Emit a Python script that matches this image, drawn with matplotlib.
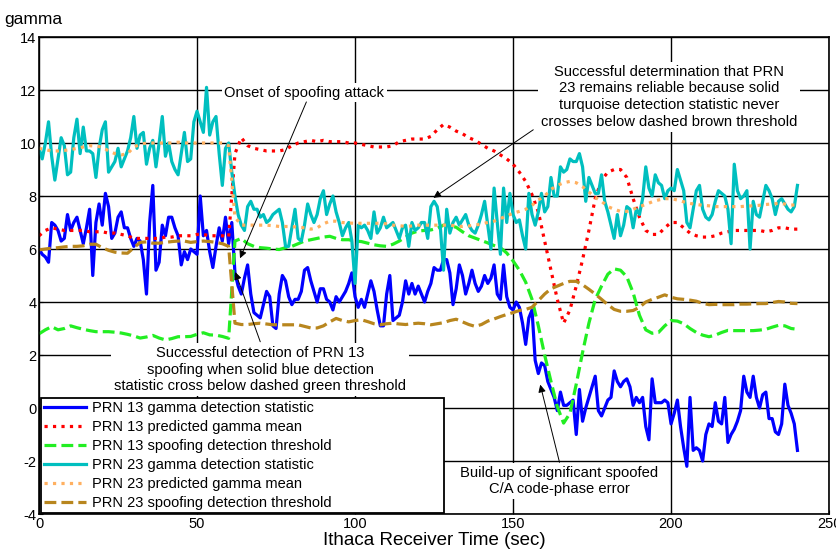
import numpy as np
import matplotlib
matplotlib.use("Agg")
import matplotlib.pyplot as plt

plt.rcParams['font.family'] = ['Liberation Sans', 'DejaVu Sans']
plt.rcParams['axes.unicode_minus'] = False

# detection statistics, one sample per second
t_stat = np.arange(0, 241, 1)
gamma_13 = [
    6.0, 5.8, 5.7, 5.5, 7.0, 6.9, 6.7, 6.3, 6.4, 7.3, 6.7, 7.0, 7.2, 6.7, 6.2, 6.8, 7.5, 5.0, 7.0, 7.7,
    6.9, 8.1, 7.6, 6.4, 6.6, 7.2, 7.4, 6.8, 6.8, 6.4, 6.1, 6.4, 6.3, 5.6, 4.3, 7.0, 8.4, 5.2, 5.5, 6.9,
    6.5, 7.2, 7.2, 6.8, 6.5, 5.4, 5.9, 5.6, 6.0, 5.9, 5.8, 8.0, 6.5, 6.7, 5.9, 5.3, 6.1, 6.8, 6.3, 7.2,
    6.2, 7.0, 5.1, 4.6, 4.3, 4.9, 5.4, 4.3, 3.6, 3.5, 3.4, 3.9, 4.4, 4.2, 3.1, 3.0, 4.3, 5.0, 4.8, 4.2,
    3.9, 4.1, 4.1, 4.4, 5.2, 5.3, 4.8, 4.4, 4.0, 4.5, 4.5, 4.1, 4.0, 3.7, 4.2, 4.0, 4.2, 4.4, 4.7, 5.1,
    4.2, 3.8, 4.1, 3.8, 4.3, 4.8, 4.4, 3.7, 3.1, 3.1, 4.3, 5.0, 3.3, 3.4, 3.5, 4.0, 4.8, 4.3, 4.7, 4.3,
    4.6, 4.3, 4.0, 4.4, 4.7, 5.3, 5.2, 5.2, 5.6, 5.6, 5.1, 3.9, 4.5, 5.4, 5.0, 4.3, 4.7, 5.2, 4.7, 4.4,
    4.6, 5.0, 4.7, 4.9, 5.4, 4.3, 4.1, 5.4, 4.2, 3.8, 3.7, 4.0, 3.8, 3.2, 2.4, 3.4, 3.7, 1.8, 1.3, 1.7,
    1.6, 1.0, 0.7, 0.4, -0.1, 0.6, 0.1, 0.1, 0.2, 0.3, -1.0, 0.7, -0.5, 0.0, 0.4, 0.8, 1.2, -0.1, -0.3, 0.0,
    0.3, 0.4, 1.4, 1.0, 0.8, 1.0, 1.1, 0.8, 0.1, 0.4, 0.2, 0.4, -0.7, -1.2, 1.1, 0.2, 0.2, 0.2, 0.3, 0.2,
    -0.6, -0.2, 0.3, -0.7, -1.5, -2.2, 0.4, -1.6, -1.5, -1.6, -2.0, -1.0, -0.6, -0.7, 0.2, -0.5, -0.6, 0.4, -1.3, -1.0,
    -0.8, -0.5, -0.1, 1.2, 0.6, 0.4, 1.2, 0.4, 0.0, 0.5, 0.6, -0.4, -0.4, -0.9, -1.0, -0.6, 0.9, 0.1, -0.2, -0.6,
    -1.6]
gamma_23 = [
    9.8, 9.4, 10.0, 10.8, 9.5, 8.6, 9.4, 10.2, 9.9, 8.8, 8.9, 10.2, 10.9, 9.6, 10.6, 9.7, 9.7, 9.6, 8.7, 9.8,
    10.5, 10.8, 8.9, 9.1, 9.3, 9.8, 9.1, 9.4, 9.7, 10.2, 11.0, 9.8, 10.3, 10.4, 9.2, 9.8, 10.1, 9.1, 10.0, 11.0,
    9.5, 10.0, 9.3, 9.0, 8.8, 9.6, 10.4, 9.3, 9.4, 10.8, 11.2, 10.8, 10.4, 12.1, 10.3, 10.8, 11.0, 9.6, 8.4, 9.8,
    10.0, 8.9, 8.0, 7.3, 6.9, 6.7, 7.6, 7.8, 7.5, 7.5, 7.2, 7.3, 7.0, 7.1, 7.3, 7.4, 7.5, 7.0, 6.1, 6.1,
    6.8, 7.5, 6.4, 6.3, 6.9, 7.7, 7.3, 7.0, 7.3, 7.9, 8.2, 7.3, 7.7, 8.0, 7.4, 7.0, 6.5, 6.8, 7.0, 6.3,
    4.7, 6.9, 6.8, 6.9, 6.7, 6.4, 7.4, 6.6, 6.8, 7.2, 6.8, 6.9, 7.0, 6.7, 6.4, 6.8, 6.9, 6.1, 7.0, 6.7,
    6.8, 7.0, 7.0, 6.4, 7.6, 7.8, 7.6, 6.8, 5.2, 7.5, 6.6, 7.0, 7.2, 6.9, 7.1, 7.3, 6.9, 6.7, 6.6, 6.9,
    7.3, 7.8, 6.9, 6.0, 8.3, 7.0, 5.8, 8.3, 7.0, 8.1, 7.3, 7.0, 7.1, 6.5, 6.0, 8.1, 7.3, 6.9, 7.4, 8.1,
    7.4, 7.6, 8.7, 8.0, 8.0, 9.1, 8.9, 9.0, 9.4, 9.3, 9.3, 9.6, 9.1, 7.8, 8.7, 8.4, 8.1, 8.1, 8.8, 7.8,
    7.4, 6.9, 6.4, 7.3, 6.5, 6.9, 7.6, 7.5, 6.8, 7.5, 7.3, 7.9, 9.1, 8.3, 8.0, 8.8, 8.5, 8.4, 7.9, 8.2,
    8.3, 8.2, 9.0, 8.6, 8.2, 7.0, 6.8, 7.5, 8.2, 8.4, 7.5, 7.2, 7.1, 7.3, 7.8, 8.2, 8.1, 8.0, 7.5, 6.2,
    9.2, 8.2, 7.9, 8.0, 8.2, 6.0, 7.8, 7.3, 7.2, 7.8, 8.4, 8.2, 7.9, 7.3, 7.8, 7.9, 7.7, 7.5, 7.4, 7.6,
    8.4]

# predicted means and thresholds, every 2 seconds
t_model = np.arange(0, 241, 2)
mean_13 = [
    6.5, 6.7, 6.8, 6.75, 6.7, 6.7, 6.7, 6.7, 6.65, 6.65, 6.65, 6.6, 6.6, 6.55, 6.5, 6.4, 6.4, 6.4, 6.4, 6.4,
    6.45, 6.45, 6.5, 6.5, 6.5, 6.55, 6.55, 6.5, 6.5, 6.5, 6.45, 9.6, 10.2, 9.9, 9.8, 9.75, 9.7, 9.7, 9.7, 9.75,
    9.9, 10.0, 10.05, 10.1, 10.05, 10.1, 10.05, 10.05, 10.05, 10.0, 10.0, 9.95, 9.9, 9.85, 9.85, 9.85, 9.9, 10.05, 10.1, 10.15,
    10.15, 10.15, 10.25, 10.5, 10.7, 10.6, 10.45, 10.35, 10.2, 10.1, 9.95, 9.8, 9.7, 9.55, 9.4, 9.2, 8.9, 8.55, 8.05, 7.4,
    6.3, 5.2, 4.1, 3.2, 3.7, 4.6, 5.6, 6.7, 7.9, 8.6, 8.9, 9.0, 9.0, 8.7, 7.9, 7.2, 6.7, 6.55, 6.55, 6.8,
    7.0, 7.0, 6.8, 6.6, 6.5, 6.45, 6.45, 6.5, 6.6, 6.65, 6.7, 6.7, 6.7, 6.7, 6.7, 6.65, 6.7, 6.8, 6.8, 6.75,
    6.75]
thresh_13 = [
    2.8, 2.95, 3.07, 2.95, 3.0, 3.1, 3.03, 2.97, 2.92, 2.88, 2.88, 2.88, 2.86, 2.83, 2.78, 2.72, 2.64, 2.68, 2.74, 2.64,
    2.57, 2.62, 2.69, 2.69, 2.7, 2.78, 2.84, 2.76, 2.75, 2.7, 2.63, 6.3, 6.4, 6.2, 6.1, 6.05, 6.03, 6.0, 5.98, 6.05,
    6.1, 6.2, 6.3, 6.35, 6.4, 6.45, 6.48, 6.4, 6.35, 6.35, 6.3, 6.28, 6.22, 6.16, 6.12, 6.1, 6.18, 6.3, 6.45, 6.6,
    6.68, 6.7, 6.72, 6.78, 6.9, 6.88, 6.82, 6.65, 6.5, 6.41, 6.32, 6.23, 6.13, 6.05, 5.85, 5.55, 5.2, 4.75, 4.1, 3.1,
    2.0, 1.0, 0.05, -0.57, -0.2, 0.9, 2.1, 3.2, 4.1, 4.6, 5.05, 5.25, 5.2, 4.95, 4.35, 3.5, 2.95, 2.82, 2.85, 3.1,
    3.3, 3.28, 3.18, 3.0, 2.85, 2.75, 2.69, 2.75, 2.85, 2.93, 2.92, 2.92, 2.92, 2.92, 2.94, 2.97, 3.05, 3.12, 3.1, 3.0,
    2.97]
mean_23 = [
    9.8, 9.75, 9.7, 9.7, 9.72, 9.75, 9.8, 9.85, 9.9, 9.88, 9.85, 9.7, 9.6, 9.55, 9.6, 9.85, 9.95, 10.0, 10.0, 10.0,
    10.0, 10.0, 10.03, 10.0, 10.0, 10.0, 10.0, 10.0, 10.0, 10.0, 9.9, 7.2, 6.9, 6.9, 6.9, 6.9, 6.9, 6.88, 6.85, 6.85,
    6.85, 6.82, 6.8, 6.75, 6.8, 6.95, 7.05, 7.05, 7.0, 6.98, 6.97, 6.97, 6.97, 6.97, 6.97, 6.95, 6.9, 6.88, 6.85, 6.87,
    6.9, 6.9, 6.9, 6.9, 6.9, 6.9, 6.87, 6.85, 6.87, 6.9, 6.95, 7.0, 7.05, 7.15, 7.25, 7.35, 7.42, 7.5, 7.65, 7.85,
    8.0, 8.25, 8.4, 8.5, 8.55, 8.5, 8.35, 8.15, 7.95, 7.8, 7.6, 7.5, 7.42, 7.42, 7.5, 7.6, 7.68, 7.78, 7.85, 7.9,
    7.9, 7.85, 7.78, 7.72, 7.68, 7.65, 7.63, 7.6, 7.6, 7.6, 7.6, 7.6, 7.62, 7.63, 7.65, 7.68, 7.7, 7.72, 7.7, 7.66,
    7.66]
thresh_23 = [
    5.97, 6.0, 6.03, 6.05, 6.08, 6.1, 6.1, 6.12, 6.18, 6.18, 6.05, 5.95, 5.88, 5.85, 5.84, 6.05, 6.25, 6.27, 6.22, 6.22,
    6.25, 6.28, 6.3, 6.3, 6.25, 6.28, 6.3, 6.28, 6.25, 6.2, 6.1, 3.2, 3.15, 3.15, 3.18, 3.2, 3.17, 3.14, 3.14, 3.14,
    3.14, 3.14, 3.08, 3.02, 3.02, 3.1, 3.25, 3.38, 3.3, 3.25, 3.3, 3.33, 3.26, 3.18, 3.14, 3.18, 3.2, 3.17, 3.15, 3.18,
    3.2, 3.18, 3.14, 3.18, 3.22, 3.3, 3.35, 3.25, 3.15, 3.08, 3.15, 3.28, 3.36, 3.45, 3.53, 3.6, 3.68, 3.72, 3.8, 4.05,
    4.3, 4.5, 4.6, 4.7, 4.78, 4.78, 4.65, 4.48, 4.3, 4.1, 3.9, 3.72, 3.65, 3.65, 3.68, 3.8, 4.0, 4.1, 4.18, 4.27,
    4.18, 4.12, 4.1, 4.07, 4.03, 3.95, 3.9, 3.91, 3.9, 3.9, 3.9, 3.92, 3.92, 3.93, 3.94, 3.94, 3.98, 4.02, 4.0, 3.95,
    3.94]


def annotate(ax, text, text_xy, arrow_from, arrow_to, size=10.6):
    ax.text(text_xy[0], text_xy[1], text, ha='center', va='center', fontsize=size,
            linespacing=1.25, zorder=5,
            bbox=dict(fc='white', ec='none', pad=2))
    ax.annotate('', xy=arrow_to, xytext=arrow_from, zorder=6,
                arrowprops=dict(arrowstyle='-|>', color='black', lw=0.7,
                                mutation_scale=11, shrinkA=0, shrinkB=0))


fig = plt.figure(figsize=(8.36, 5.54), dpi=100)
ax = fig.add_axes([0.0467, 0.0722, 0.945, 0.861])

lw = 2.3
ax.plot(t_stat, gamma_13, color='#0000ff', lw=lw, label='PRN 13 gamma detection statistic')
ax.plot(t_model, mean_13, color='#ff0000', lw=lw, ls=':', label='PRN 13 predicted gamma mean')
ax.plot(t_model, thresh_13, color='#22ee22', lw=lw, ls='--', label='PRN 13 spoofing detection threshold')
ax.plot(t_stat, gamma_23, color='#00bfbf', lw=lw, label='PRN 23 gamma detection statistic')
ax.plot(t_model, mean_23, color='#ffb060', lw=lw, ls=':', label='PRN 23 predicted gamma mean')
ax.plot(t_model, thresh_23, color='#b8861e', lw=lw, ls='--', label='PRN 23 spoofing detection threshold')

ax.set_xlim(0, 250)
ax.set_ylim(-4, 14)
ax.set_xticks(np.arange(0, 251, 50))
ax.set_yticks(np.arange(-4, 15, 2))
ax.grid(True, color='black', lw=1.0)
ax.tick_params(direction='in', length=3, labelsize=10.5, pad=2)
for s in ax.spines.values():
    s.set_linewidth(1.2)

ax.set_xlabel('Ithaca Receiver Time (sec)', fontsize=13.5, labelpad=1)
fig.text(0.005, 0.965, 'gamma', fontsize=12.5, va='center')

annotate(ax, 'Onset of spoofing attack', (84, 11.9), (84.6, 11.55), (63.6, 5.65))
annotate(ax, 'Successful determination that PRN\n23 remains reliable because solid\n'
             'turquoise detection statistic never\ncrosses below dashed brown threshold',
         (199.5, 11.75), (156.4, 10.5), (124.8, 7.93))
annotate(ax, 'Successful detection of PRN 13\nspoofing when solid blue detection\n'
             'statistic cross below dashed green threshold',
         (70, 1.45), (70, 2.5), (62.1, 5.13))
annotate(ax, 'Build-up of significant spoofed\nC/A code-phase error',
         (164.7, -2.75), (164.7, -2.05), (158.6, 0.88))

leg = ax.legend(loc='lower left', bbox_to_anchor=(0.002, 0.002, 0.51, 0.2), mode='expand',
                fontsize=10.5, handlelength=2.9, labelspacing=0.34, borderaxespad=0,
                fancybox=False, framealpha=1, borderpad=0.2, handletextpad=0.4)
leg.get_frame().set_edgecolor('black')
leg.get_frame().set_linewidth(1.3)
leg.set_zorder(7)

fig.savefig('out.png', dpi=100)
